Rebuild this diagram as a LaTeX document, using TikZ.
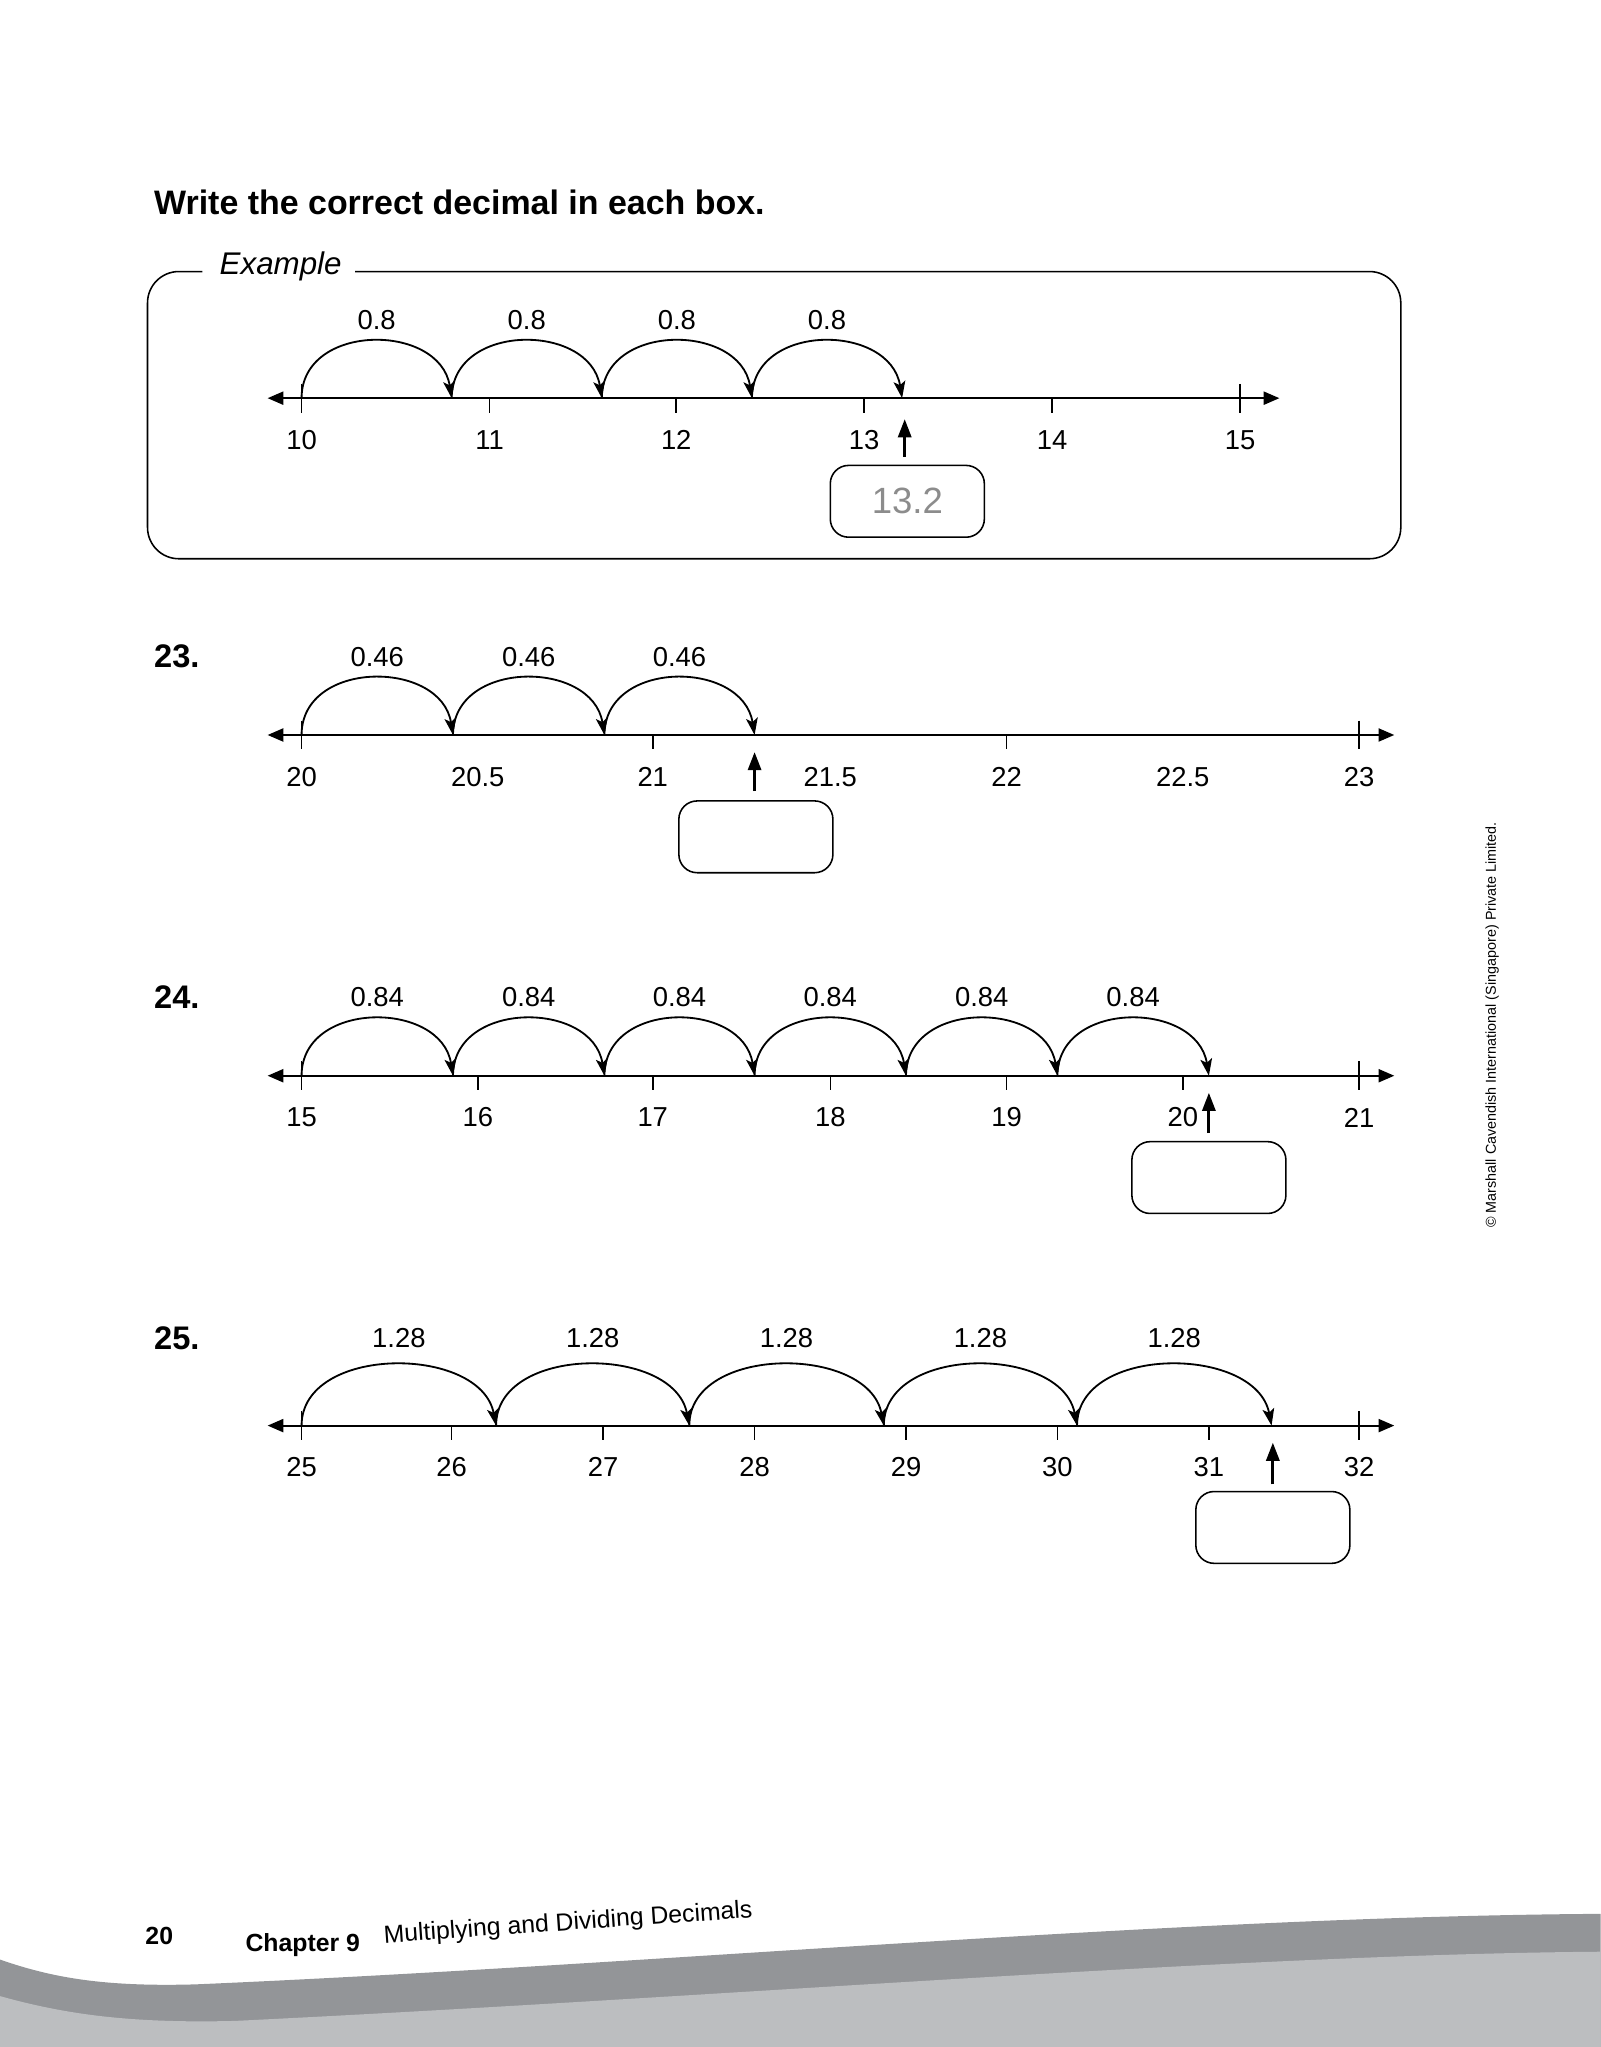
\documentclass[tikz,border=0pt]{standalone}
\usepackage{fontspec}
\setmainfont{Liberation Sans}
\usetikzlibrary{arrows.meta}
\definecolor{wdark}{HTML}{939598}
\definecolor{wlight}{HTML}{BCBEC0}
\begin{document}
\begin{tikzpicture}[x=0.5pt,y=-0.5pt,
  nline/.style={line width=0.7pt,{Triangle[length=6pt,width=5pt]}-{Triangle[length=6pt,width=5pt]}},
  tickm/.style={line width=0.6pt},
  jump/.style={line width=0.7pt,-{Stealth[length=6.5pt,width=4.5pt,inset=1.5pt]}},
  upar/.style={line width=1.2pt,-{Triangle[length=7pt,width=5pt]}},
  ansbox/.style={draw,rounded corners=7pt,line width=0.6pt,minimum width=59pt,minimum height=27.5pt,inner sep=0pt},
  num/.style={font=\fontsize{10.5}{12}\selectfont},
  qnum/.style={font=\fontsize{12.5}{14}\selectfont\bfseries,anchor=west}]
\useasboundingbox (0,0) rectangle (1226,1568);
% footer waves
\fill[wdark] (0,1501) .. controls (40,1515) and (80,1522) .. (150,1520) .. controls (500,1505) and (900,1468) .. (1226,1466) -- (1226,1568) -- (0,1568) -- cycle;
\fill[wlight] (0,1529) .. controls (50,1543) and (100,1550) .. (180,1548) .. controls (550,1530) and (950,1497) .. (1226,1495) -- (1226,1568) -- (0,1568) -- cycle;
% title
\node[anchor=west,font=\fontsize{13}{15}\selectfont\bfseries] (title) at (111,155) {Write the correct decimal in each box.};
% example frame
\draw[line width=0.6pt,rounded corners=12pt] (155,208) -- (113,208) -- (113,428) -- (1073,428) -- (1073,208) -- (272,208);
\node[font=\fontsize{12}{14}\selectfont\itshape] (ex) at (215,204) {Example};
% number line macro: #1 y, #2 ticks x/label, #3 right end, #4 prefix, #5 first x, #6 last x
\newcommand{\numline}[6]{%
  \coordinate (#4L) at (205,#1); \coordinate (#4R) at (#3,#1);
  \draw[nline] (#4L) -- (#4R);
  \foreach \x/\t in {#2}{
    \coordinate (#4t\t) at ({\x},{#1+11}); \coordinate (#4u\t) at ({\x},{#1});
    \draw[tickm] (#4u\t) -- (#4t\t);
    \node[num] (#4n\t) at ({\x},{#1+32}) {\t};}
  \coordinate (#4f) at ({#5},{#1-11}); \draw[tickm] (#4f) -- ++(0,11);
  \coordinate (#4g) at ({#6},{#1-11}); \draw[tickm] (#4g) -- ++(0,11);
}
\newcommand{\jumparc}[5]{% #1 name, #2 a, #3 b, #4 y, #5 height
  \coordinate (#1s) at ({#2},{#4}); \coordinate (#1e) at ({#3},{#4});
  \draw[jump] (#1s) .. controls ({#2},{#4-#5}) and ({#3-0.08*(#3-#2)},{#4-#5}) .. (#1e);}
% Example
\numline{305}{231/10,375/11,518/12,662/13,806/14,950/15}{980}{e}{231}{950}
\foreach \a/\b [count=\i] in {231/346,346/461,461/576,576/691}{
  \jumparc{ea\i}{\a}{\b}{305}{58}
  \node[num] (el\i) at ({(\a+\b)/2},245) {0.8};}
\node[ansbox] (ebox) at (695,384) {\color{black!45}\fontsize{14}{16}\selectfont 13.2};
\coordinate (ear) at (693,350);\coordinate (eat) at (693,321);
\draw[upar] (ear) -- (eat);
% 23
\node[qnum] (q23) at (111,503) {23.};
\numline{563}{231/20,366/20.5,500/21,636/21.5,771/22,906/22.5,1041/23}{1068}{a}{231}{1041}
\foreach \a/\b [count=\i] in {231/347,347/463,463/578}{
  \jumparc{aa\i}{\a}{\b}{563}{58}
  \node[num] (al\i) at ({(\a+\b)/2},503) {0.46};}
\node[ansbox] (abox) at (579,641) {};
\coordinate (aar) at (578,606);\coordinate (aat) at (578,576);
\draw[upar] (aar) -- (aat);
% 24
\node[qnum] (q24) at (111,764) {24.};
\numline{824}{231/15,366/16,500/17,636/18,771/19,906/20,1041/21}{1068}{b}{231}{1041}
\foreach \a/\b [count=\i] in {231/347,347/463,463/578,578/694,694/810,810/926}{
  \jumparc{ba\i}{\a}{\b}{824}{58}
  \node[num] (bl\i) at ({(\a+\b)/2},764) {0.84};}
\node[ansbox] (bbox) at (926,902) {};
\coordinate (bar) at (926,868);\coordinate (bat) at (926,837);
\draw[upar] (bar) -- (bat);
% 25
\node[qnum] (q25) at (111,1025) {25.};
\numline{1092}{231/25,346/26,462/27,578/28,694/29,810/30,926/31,1041/32}{1068}{c}{231}{1041}
\foreach \a/\b [count=\i] in {231/380,380/528,528/677,677/825,825/974}{
  \jumparc{ca\i}{\a}{\b}{1092}{62}
  \node[num] (cl\i) at ({(\a+\b)/2},1025) {1.28};}
\node[ansbox] (cbox) at (975,1170) {};
\coordinate (car) at (975,1137);\coordinate (cat) at (975,1105);
\draw[upar] (car) -- (cat);
% copyright
\node[rotate=90,font=\fontsize{5.5}{7}\selectfont] (copy) at (1143,785) {© Marshall Cavendish International (Singapore) Private Limited.};
% footer text
\node[font=\fontsize{9.5}{11}\selectfont\bfseries] (pg) at (122,1483) {20};
\node[anchor=west,font=\fontsize{9.5}{11}\selectfont\bfseries] (ch) at (181,1490) {Chapter 9};
\node[anchor=west,rotate=4,font=\fontsize{9.5}{11}\selectfont] (chn) at (287,1484) {Multiplying and Dividing Decimals};
\end{tikzpicture}
\end{document}
